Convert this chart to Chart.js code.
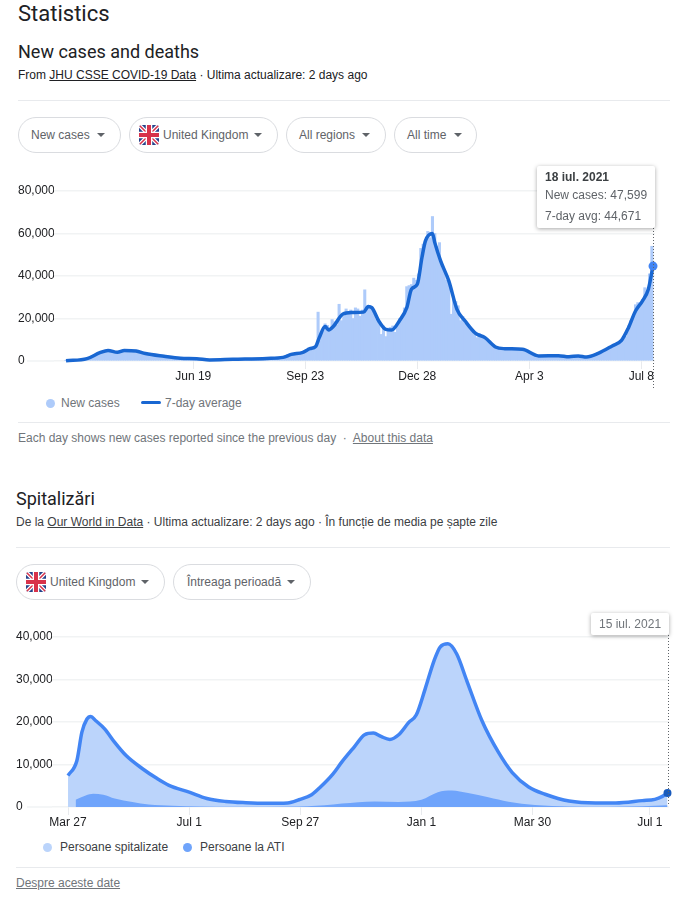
<!DOCTYPE html>
<html>
<head>
<meta charset="utf-8">
<title>Statistics</title>
<script src="https://cdn.jsdelivr.net/npm/chart.js@4/dist/chart.umd.js"></script>
<style>
html, body { margin: 0; padding: 0; background: #fff; }
body { position: relative; width: 684px; height: 916px; overflow: hidden; font-family: "Liberation Sans", Arial, sans-serif; color: #202124; }
.t { position: absolute; white-space: nowrap; line-height: 16px; font-size: 12px; }
.h { font-family: Roboto, sans-serif; }
.t a { color: inherit; text-decoration: underline; }
.hr { position: absolute; height: 1px; background: #e8eaed; }
.pill { position: absolute; height: 34px; border: 1px solid #dadce0; border-radius: 18px; box-sizing: content-box; font-size: 12px; line-height: 34px; color: #5f6368; white-space: nowrap; }
.pill span { position: absolute; top: 0; }
.pill i { position: absolute; top: 15px; width: 0; height: 0; border-left: 4.5px solid transparent; border-right: 4.5px solid transparent; border-top: 4.5px solid #5f6368; }
.pill svg { position: absolute; top: 7px; left: 9px; width: 20px; height: 20px; border-radius: 3px; }
.dot { position: absolute; width: 9px; height: 9px; border-radius: 50%; }
.dash { position: absolute; width: 20px; height: 3px; border-radius: 2px; background: #1967d2; }
canvas { position: absolute; left: 0; }
.tip { position: absolute; background: #fff; border-radius: 2px; box-shadow: 0 1px 4px rgba(0,0,0,.35); }
</style>
</head>
<body>

<div class="t h" style="left:18px;top:1px;font-size:22px;line-height:26px;">Statistics</div>
<div class="t h" style="left:18px;top:41px;font-size:18px;line-height:22px;">New cases and deaths</div>
<div class="t" style="left:18px;top:67px;">From <a>JHU CSSE COVID-19 Data</a> · Ultima actualizare: 2 days ago</div>
<div class="hr" style="left:18px;top:100px;width:652px;"></div>

<div class="pill" style="left:18px;top:117px;width:101px;"><span style="left:12px;">New cases</span><i style="left:78px;"></i></div>
<div class="pill" style="left:129px;top:117px;width:147px;"><svg viewBox="0 0 20 20"><use href="#uk"/></svg><span style="left:33px;">United Kingdom</span><i style="left:124px;"></i></div>
<div class="pill" style="left:286px;top:117px;width:98px;"><span style="left:12px;">All regions</span><i style="left:75px;"></i></div>
<div class="pill" style="left:394px;top:117px;width:81px;"><span style="left:12px;">All time</span><i style="left:59px;"></i></div>

<canvas id="casesChart" width="684" height="220" style="top:171px;"></canvas>

<div class="tip" style="left:537px;top:166px;width:118px;height:62px;"></div>
<div class="t" style="left:545px;top:169px;font-weight:700;color:#3c4043;">18 iul. 2021</div>
<div class="t" style="left:545px;top:187px;color:#5f6368;">New cases: 47,599</div>
<div class="t" style="left:545px;top:208px;color:#5f6368;">7-day avg: 44,671</div>

<div class="dot" style="left:46px;top:399px;background:#aecbfa;"></div>
<div class="t" style="left:61px;top:395px;color:#70757a;">New cases</div>
<div class="dash" style="left:141px;top:401px;"></div>
<div class="t" style="left:165px;top:395px;color:#70757a;">7-day average</div>
<div class="hr" style="left:18px;top:422px;width:652px;"></div>
<div class="t" style="left:18px;top:430px;color:#70757a;">Each day shows new cases reported since the previous day &nbsp;·&nbsp; <a>About this data</a></div>

<div class="t h" style="left:16px;top:488px;font-size:18px;line-height:22px;">Spitalizări</div>
<div class="t" style="left:16px;top:514px;color:#3c4043;">De la <a>Our World in Data</a> · Ultima actualizare: 2 days ago · În funcție de media pe șapte zile</div>
<div class="hr" style="left:16px;top:547px;width:654px;"></div>

<div class="pill" style="left:16px;top:564px;width:147px;"><svg viewBox="0 0 20 20"><use href="#uk"/></svg><span style="left:33px;">United Kingdom</span><i style="left:124px;"></i></div>
<div class="pill" style="left:173px;top:564px;width:136px;"><span style="left:13px;">Întreaga perioadă</span><i style="left:113px;"></i></div>

<canvas id="hospitalChart" width="684" height="220" style="top:617px;"></canvas>

<div class="tip" style="left:591px;top:613px;width:78px;height:22px;"></div>
<div class="t" style="left:599px;top:616px;color:#70757a;">15 iul. 2021</div>

<div class="dot" style="left:43px;top:843px;background:#bbd4fb;"></div>
<div class="t" style="left:60px;top:839px;color:#3c4043;">Persoane spitalizate</div>
<div class="dot" style="left:183px;top:843px;background:#6fa4fb;"></div>
<div class="t" style="left:200px;top:839px;color:#3c4043;">Persoane la ATI</div>
<div class="hr" style="left:16px;top:867px;width:654px;"></div>
<div class="t" style="left:16px;top:875px;color:#70757a;"><a>Despre aceste date</a></div>

<svg width="0" height="0" style="position:absolute;">
    <defs>
        <g id="uk">
            <rect width="20" height="20" fill="#26428b"/>
            <path d="M0 0L20 20M20 0L0 20" stroke="#fff" stroke-width="4"/>
            <path d="M0 0L20 20M20 0L0 20" stroke="#d8324a" stroke-width="1.5"/>
            <path d="M10 0V20M0 10H20" stroke="#fff" stroke-width="6.5"/>
            <path d="M10 0V20M0 10H20" stroke="#d8324a" stroke-width="4"/>
        </g>
    </defs>
</svg>

<script>
// first chart, x is days since 2 Mar 2020
const caseTickDays = [109, 205, 301, 397, 493];
const caseTickLabels = ['Jun 19', 'Sep 23', 'Dec 28', 'Apr 3', 'Jul 8'];
const caseYTicks = [0, 20000, 40000, 60000, 80000];

// one bar for every second day
const newCases = [
    40, 50, 80, 150, 250, 400, 550, 700, 850, 1100,
    1500, 2300, 2900, 3300, 3900, 4400, 5000, 4800, 5100, 5000,
    4700, 4300, 3900, 4200, 4600, 4900, 5200, 5000, 4800, 4900,
    4700, 4800, 4600, 4100, 3800, 3500, 3400, 3300, 3100, 2900,
    2700, 2500, 2200, 2100, 2000, 1800, 1600, 1500, 1400, 1300,
    1300, 1200, 1250, 1200, 1100, 1150, 1100, 1000, 1000, 900,
    700, 600, 500, 550, 600, 650, 700, 750, 800, 800,
    800, 750, 800, 850, 800, 900, 950, 1000, 1050, 1100,
    1100, 1200, 1150, 1200, 1200, 1250, 1300, 1200, 1300, 1400,
    1500, 1600, 1700, 2000, 2600, 3000, 3200, 3300, 3400, 3800,
    3600, 4000, 4300, 5500, 6200, 6500, 6000, 7000, 23000, 12500,
    14000, 17500, 16800, 14500, 19500, 18500, 17000, 26700, 19000, 21000,
    24500, 22000, 24000, 20000, 25000, 24500, 21000, 24000, 33500, 26000,
    26000, 24500, 22000, 19500, 17500, 12500, 16500, 11500, 15500, 15800,
    16500, 13500, 17000, 20000, 19500, 25000, 35000, 35500, 36000, 39000,
    38000, 41000, 53000, 55000, 57000, 61000, 58000, 68000, 60000, 54000,
    55700, 44000, 42000, 38000, 36000, 22000, 29000, 28000, 26000, 19000,
    21000, 18000, 17500, 15500, 14000, 12500, 11000, 13000, 12000, 11500,
    10500, 9500, 8500, 7500, 6800, 6500, 6000, 5800, 5700, 5800,
    5900, 5800, 5700, 5500, 5600, 5800, 5300, 4800, 4200, 3700,
    3300, 2800, 2600, 2400, 2500, 2700, 2600, 2500, 2500, 2600,
    2400, 2600, 2500, 2300, 2100, 2100, 2000, 2200, 2300, 2400,
    2400, 2100, 1900, 2000, 2100, 2400, 2700, 3000, 3400, 3700,
    4200, 4800, 5400, 6200, 7000, 7400, 8200, 8500, 9500, 10500,
    11500, 16500, 19000, 21000, 26500, 27500, 26000, 29000, 34500, 33000,
    41000, 54000
];

const avgDays = [0, 18, 29, 36, 44, 50, 60, 68, 84, 98, 112, 123, 143, 172, 186, 193, 203, 209, 214, 217, 222, 225, 229, 237,
    245, 255, 259, 262, 268, 274, 279, 286, 292, 296, 301, 305, 308, 314, 316, 321, 328, 335, 342, 351, 359, 368, 376, 391,
    405, 422, 431, 439, 446, 456, 468, 476, 482, 488, 494, 499, 503];
const avgValues = [100, 1100, 3900, 5000, 4100, 5000, 4700, 3500, 2200, 1300, 1100, 500, 800, 1200, 1700, 3100, 4100, 5800, 6900, 11000, 16200, 14600, 16200, 22000,
    22800, 23000, 25600, 25100, 18800, 14900, 14600, 19200, 25100, 33800, 36100, 48700, 56500, 60000, 55700, 47100, 37700, 24300, 18800, 13000, 11000, 6600, 5800, 5500,
    2400, 2500, 2000, 2400, 1900, 3600, 7100, 9700, 15700, 23500, 28300, 33800, 44671];

// second chart, x is days since 27 Mar 2020
const hospTickDays = [0, 96, 184, 280, 368, 461];
const hospTickLabels = ['Mar 27', 'Jul 1', 'Sep 27', 'Jan 1', 'Mar 30', 'Jul 1'];
const hospYTicks = [0, 10000, 20000, 30000, 40000];

const hospDays = [0, 7, 11, 15, 18, 22, 29, 37, 46, 59, 70, 80, 96, 110, 125, 141, 157, 174, 183, 193, 200, 210, 217,
    227, 235, 242, 248, 255, 262, 270, 276, 283, 290, 295, 301, 308, 316, 328, 341, 352, 365, 378, 397, 418, 434, 455, 465, 471, 475];
const hospValues = [7400, 10900, 17600, 20700, 21300, 20300, 18400, 15200, 12100, 9000, 6800, 5100, 3500, 2000, 1300, 1000, 860, 940, 1700, 2900, 4700, 7800, 10600,
    14200, 17000, 17400, 16600, 15900, 17000, 19900, 21700, 27800, 34400, 37700, 38400, 36000, 29700, 20300, 12900, 8100, 4700, 3000, 1400, 940, 940, 1500, 1800, 2500, 3300];

const icuDays = [6, 14, 20, 28, 37, 51, 64, 83, 104, 130, 183, 210, 217, 243, 262, 280, 293, 304, 317, 333, 349, 370, 397, 428, 455, 475];
const icuValues = [1700, 2700, 3100, 2900, 2000, 1200, 600, 300, 100, 50, 100, 600, 800, 1300, 1200, 1700, 3500, 3900, 3300, 2300, 1250, 470, 100, 40, 150, 400];

const tickFont = { family: '"Liberation Sans", Arial, sans-serif', size: 12 };

function pairs(days, values) {
    return values.map((v, i) => ({ x: days[i], y: v }));
}

// dotted cursor at the last day, and the stub of the zero line left of the axis
function cursorPlugin(day, top, bottom) {
    return {
        id: 'cursor',
        afterDraw(chart) {
            let ctx = chart.ctx;
            let x = Math.round(chart.scales.x.getPixelForValue(day)) + 0.5;
            let zero = chart.scales.y.getPixelForValue(0);
            ctx.save();
            ctx.strokeStyle = '#f1f3f4';
            ctx.lineWidth = 1.5;
            ctx.beginPath();
            ctx.moveTo(27, zero);
            ctx.lineTo(chart.chartArea.left, zero);
            ctx.stroke();
            ctx.strokeStyle = '#5f6368';
            ctx.lineWidth = 1;
            ctx.setLineDash([1, 2]);
            ctx.beginPath();
            ctx.moveTo(x, top);
            ctx.lineTo(x, bottom);
            ctx.stroke();
            ctx.restore();
        }
    };
}

function axes(xMin, xMax, tickDays, tickLabels, yMax, yTicks) {
    return {
        x: {
            type: 'linear',
            offset: false,
            min: xMin,
            max: xMax,
            border: { display: false },
            grid: { offset: false, drawOnChartArea: false, drawTicks: true, tickLength: 8, color: '#e8eaed' },
            afterBuildTicks: scale => { scale.ticks = tickDays.map(d => ({ value: d })); },
            afterFit: scale => { scale.height = 30; },
            ticks: {
                autoSkip: false,
                maxRotation: 0,
                padding: 0,
                color: '#202124',
                font: tickFont,
                callback: v => tickLabels[tickDays.indexOf(v)]
            }
        },
        y: {
            min: 0,
            max: yMax,
            border: { display: false },
            grid: { drawTicks: false, color: '#f1f3f4', lineWidth: 1.5 },
            afterBuildTicks: scale => { scale.ticks = yTicks.map(v => ({ value: v })); },
            afterFit: scale => { scale.width = 36; },
            ticks: {
                crossAlign: 'far',
                color: '#202124',
                font: tickFont,
                callback: v => v.toLocaleString('en-US')
            }
        }
    };
}

let casesChart = new Chart(document.getElementById('casesChart'), {
    data: {
        datasets: [
            {
                type: 'line',
                label: '7-day average',
                data: pairs(avgDays, avgValues),
                borderColor: '#1967d2',
                borderWidth: 3.5,
                cubicInterpolationMode: 'monotone',
                clip: false,
                pointRadius: ctx => (ctx.dataIndex === avgValues.length - 1 ? 4.5 : 0),
                pointBackgroundColor: '#4285f4',
                pointBorderWidth: 0,
                fill: false,
                order: 1
            },
            {
                type: 'bar',
                label: 'New cases',
                data: newCases.map((v, i) => ({ x: i * 2, y: v })),
                backgroundColor: '#aecbfa',
                barThickness: 2.4,
                order: 2
            }
        ]
    },
    options: {
        responsive: false,
        animation: false,
        events: [],
        layout: { padding: { left: 18, right: 29, top: 20, bottom: 0 } },
        plugins: { legend: { display: false }, tooltip: { enabled: false } },
        scales: axes(-10.3, 504.7, caseTickDays, caseTickLabels, 80000, caseYTicks)
    },
    plugins: [cursorPlugin(503, 57, 217)]
});

let hospitalChart = new Chart(document.getElementById('hospitalChart'), {
    type: 'line',
    data: {
        datasets: [
            {
                label: 'Persoane la ATI',
                data: pairs(icuDays, icuValues),
                borderWidth: 0,
                backgroundColor: '#6fa4fb',
                cubicInterpolationMode: 'monotone',
                pointRadius: 0,
                fill: 'origin',
                order: 1
            },
            {
                label: 'Persoane spitalizate',
                data: pairs(hospDays, hospValues),
                borderColor: '#4285f4',
                borderWidth: 3.5,
                backgroundColor: '#bbd4fb',
                cubicInterpolationMode: 'monotone',
                clip: false,
                pointRadius: ctx => (ctx.dataIndex === hospValues.length - 1 ? 4 : 0),
                pointBackgroundColor: '#185abc',
                pointBorderWidth: 0,
                fill: 'origin',
                order: 2
            }
        ]
    },
    options: {
        responsive: false,
        animation: false,
        events: [],
        layout: { padding: { left: 16, right: 15, top: 20, bottom: 0 } },
        plugins: { legend: { display: false }, tooltip: { enabled: false } },
        scales: axes(-12.7, 476.2, hospTickDays, hospTickLabels, 40000, hospYTicks)
    },
    plugins: [cursorPlugin(475.5, 18, 189)]
});
</script>
</body>
</html>
